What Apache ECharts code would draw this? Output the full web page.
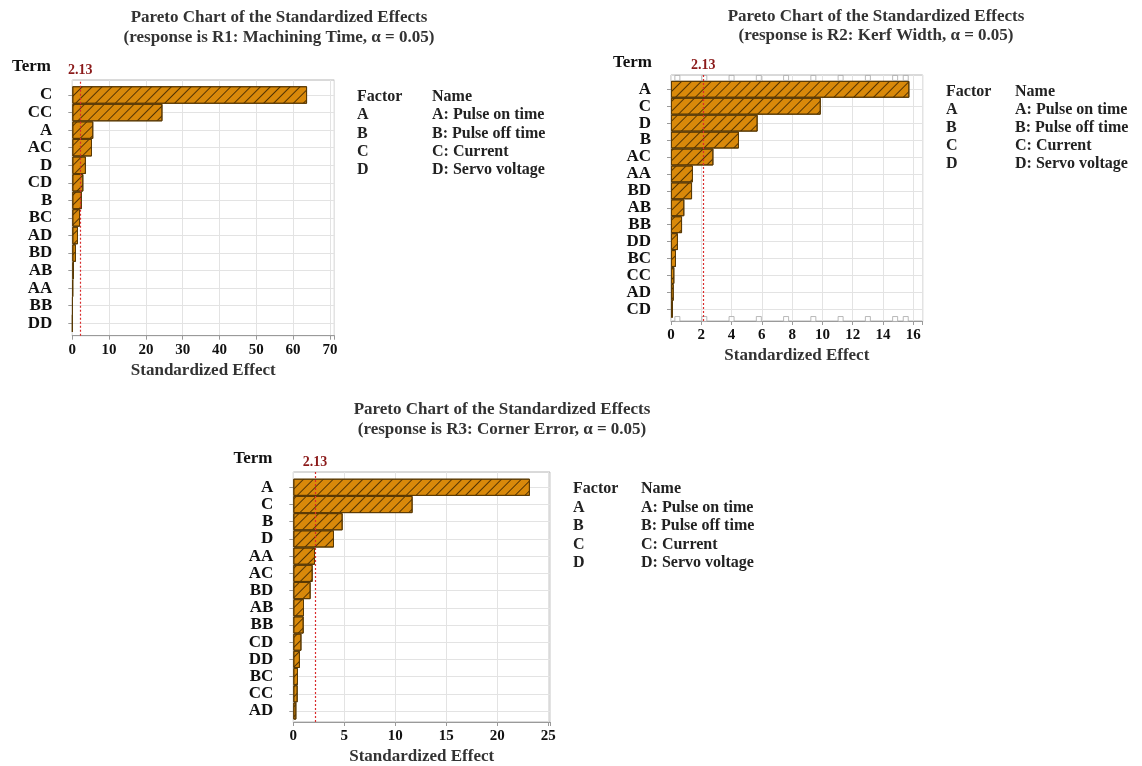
<!DOCTYPE html>
<html>
<head>
<meta charset="utf-8">
<script src="https://cdn.jsdelivr.net/npm/echarts@6/dist/echarts.min.js"></script>
<style>
html,body{margin:0;padding:0;background:#fff;}
#main{width:1142px;height:766px;}
</style>
</head>
<body>
<div id="main"></div>
<script>
// ---------------- data ----------------
const criticalValue = 2.13;

const terms1 = ['C','CC','A','AC','D','CD','B','BC','AD','BD','AB','AA','BB','DD'];
const effects1 = [63.8, 24.5, 5.7, 5.35, 3.7, 3.0, 2.6, 2.1, 1.55, 1.0, 0.46, 0.2, 0.1, 0.05];

const terms2 = ['A','C','D','B','AC','AA','BD','AB','BB','DD','BC','CC','AD','CD'];
const effects2 = [15.74, 9.89, 5.72, 4.49, 2.8, 1.45, 1.39, 0.88, 0.73, 0.46, 0.33, 0.22, 0.18, 0.13];

const terms3 = ['A','C','B','D','AA','AC','BD','AB','BB','CD','DD','BC','CC','AD'];
const effects3 = [23.2, 11.7, 4.84, 3.99, 2.13, 1.9, 1.7, 1.05, 1.02, 0.8, 0.65, 0.46, 0.43, 0.3];

// small square markers visible along the top/bottom edge of chart 2
const squareMarks2 = [0.42, 2.2, 4.0, 5.8, 7.6, 9.4, 11.2, 13.0, 14.8, 15.5];

const titles = [
  ['Pareto Chart of the Standardized Effects', '(response is R1: Machining Time, \u03B1 = 0.05)'],
  ['Pareto Chart of the Standardized Effects', '(response is R2: Kerf Width, \u03B1 = 0.05)'],
  ['Pareto Chart of the Standardized Effects', '(response is R3: Corner Error, \u03B1 = 0.05)']
];
const factorCodes = ['A','B','C','D'];
const factorNames = ['A: Pulse on time','B: Pulse off time','C: Current','D: Servo voltage'];
const xAxisName = 'Standardized Effect';

// ---------------- layout ----------------
const SERIF = '"Liberation Serif","Times New Roman",serif';
const charts = [
  { terms: terms1, effects: effects1, max: 71.2, interval: 10,
    outer: {left: 72.3, top: 80, width: 262, height: 255.7},
    inner: {top: 95, bottom: 323.3},
    title: {x: 279, y1: 18, y2: 38}, term: {x: 51, y: 66.7},
    legend: {x1: 357, x2: 432, y0: 96.7, dy: 18.4}, squares: null },
  { terms: terms2, effects: effects2, max: 16.62, interval: 2,
    outer: {left: 671, top: 75, width: 251.7, height: 246},
    inner: {top: 89.3, bottom: 309.3},
    title: {x: 876, y1: 16.7, y2: 35.5}, term: {x: 652, y: 62.3},
    legend: {x1: 946, x2: 1015, y0: 92, dy: 18}, squares: squareMarks2 },
  { terms: terms3, effects: effects3, max: 25.17, interval: 5,
    outer: {left: 293.3, top: 472, width: 256.7, height: 250.3},
    inner: {top: 487.3, bottom: 711},
    title: {x: 502, y1: 410, y2: 429.5}, term: {x: 272.5, y: 459},
    legend: {x1: 573, x2: 641, y0: 489, dy: 18.5}, squares: null }
];

const grid = [], xAxis = [], yAxis = [], series = [], graphic = [];

charts.forEach((c, i) => {
  const o = c.outer;
  const gOuter = 2 * i, gInner = 2 * i + 1;
  grid.push({ left: o.left, top: o.top, width: o.width, height: o.height,
    show: true, borderColor: '#b4b4b4', borderWidth: 1, backgroundColor: '#fff', containLabel: false });
  grid.push({ left: o.left, top: c.inner.top, width: o.width, height: c.inner.bottom - c.inner.top,
    show: false, containLabel: false });

  const iv = c.interval;
  xAxis.push({ gridIndex: gOuter, type: 'value', min: 0, max: c.max, interval: iv,
    axisLine: { show: true, onZero: false, lineStyle: { color: '#9a9a9a' } },
    axisTick: { show: true, length: 4, lineStyle: { color: '#9a9a9a' } },
    axisLabel: { color: '#111', fontFamily: SERIF, fontWeight: 'bold', fontSize: 15, margin: 7,
      formatter: v => (Math.abs(v / iv - Math.round(v / iv)) < 1e-6 ? String(Math.round(v)) : '') },
    splitLine: { show: true, lineStyle: { color: '#e3e3e3', width: 1 } },
    name: xAxisName, nameLocation: 'middle', nameGap: 26,
    nameTextStyle: { color: '#333', fontFamily: SERIF, fontWeight: 'bold', fontSize: 17 } });
  yAxis.push({ gridIndex: gOuter, type: 'value', min: 0, max: 1, show: false });

  xAxis.push({ gridIndex: gInner, type: 'value', min: 0, max: c.max, show: false });
  yAxis.push({ gridIndex: gInner, type: 'category', data: c.terms, inverse: true, boundaryGap: false,
    axisLine: { show: false },
    axisTick: { show: true, length: 4, interval: 0, lineStyle: { color: '#9a9a9a' } },
    axisLabel: { color: '#111', fontFamily: SERIF, fontWeight: 'bold', fontSize: 17, margin: 20, interval: 0 },
    splitLine: { show: true, interval: 0, lineStyle: { color: '#e3e3e3', width: 1 } } });

  // critical value reference line
  series.push({ type: 'line', xAxisIndex: gOuter, yAxisIndex: gOuter, data: [], z: 1, silent: true,
    markLine: { silent: true, symbol: ['none', 'none'], animation: false,
      lineStyle: { color: '#d92b2b', type: [2, 2], width: 1.2, opacity: 1 },
      label: { show: true, position: 'end', formatter: String(criticalValue), color: '#8b1a1a',
        fontFamily: SERIF, fontWeight: 'bold', fontSize: 14, distance: 3 },
      data: [{ xAxis: criticalValue }] } });

  // bars
  series.push({ type: 'bar', xAxisIndex: gInner, yAxisIndex: gInner, data: c.effects, z: 3,
    barCategoryGap: '0%', clip: false, silent: true,
    itemStyle: { color: '#D9890A', borderColor: '#5a3a05', borderWidth: 1,
      decal: { symbol: 'rect', symbolSize: 1, color: 'rgba(50,30,0,0.8)',
        dashArrayX: [1, 0], dashArrayY: [1, 6], rotation: -Math.PI / 4 } },
    emphasis: { disabled: true } });

  if (c.squares) {
    const pts = [];
    c.squares.forEach(v => { pts.push([v, 0.988]); pts.push([v, 0.008]); });
    series.push({ type: 'scatter', xAxisIndex: gOuter, yAxisIndex: gOuter, data: pts, z: 4,
      symbol: 'rect', symbolSize: 5, clip: false, silent: true,
      itemStyle: { color: '#fff', borderColor: '#a8a8a8', borderWidth: 1 } });
  }

  // titles
  const t = c.title;
  graphic.push({ type: 'text', x: t.x, y: t.y1, style: { text: titles[i][0], fill: '#333',
    font: 'bold 17px ' + SERIF, textAlign: 'center', textVerticalAlign: 'middle' } });
  graphic.push({ type: 'text', x: t.x, y: t.y2, style: { text: titles[i][1], fill: '#333',
    font: 'bold 17px ' + SERIF, textAlign: 'center', textVerticalAlign: 'middle' } });
  // "Term"
  graphic.push({ type: 'text', x: c.term.x, y: c.term.y, style: { text: 'Term', fill: '#111',
    font: 'bold 17px ' + SERIF, textAlign: 'right', textVerticalAlign: 'middle' } });
  // factor table
  const L = c.legend;
  const rowsL = ['Factor'].concat(factorCodes), rowsR = ['Name'].concat(factorNames);
  rowsL.forEach((s, k) => {
    graphic.push({ type: 'text', x: L.x1, y: L.y0 + k * L.dy, style: { text: s, fill: '#222',
      font: 'bold 16px ' + SERIF, textAlign: 'left', textVerticalAlign: 'middle' } });
    graphic.push({ type: 'text', x: L.x2, y: L.y0 + k * L.dy, style: { text: rowsR[k], fill: '#222',
      font: 'bold 16px ' + SERIF, textAlign: 'left', textVerticalAlign: 'middle' } });
  });
});

const chart = echarts.init(document.getElementById('main'), null, { renderer: 'canvas' });
chart.setOption({ animation: false, backgroundColor: '#fff', grid, xAxis, yAxis, series, graphic });
</script>
</body>
</html>
